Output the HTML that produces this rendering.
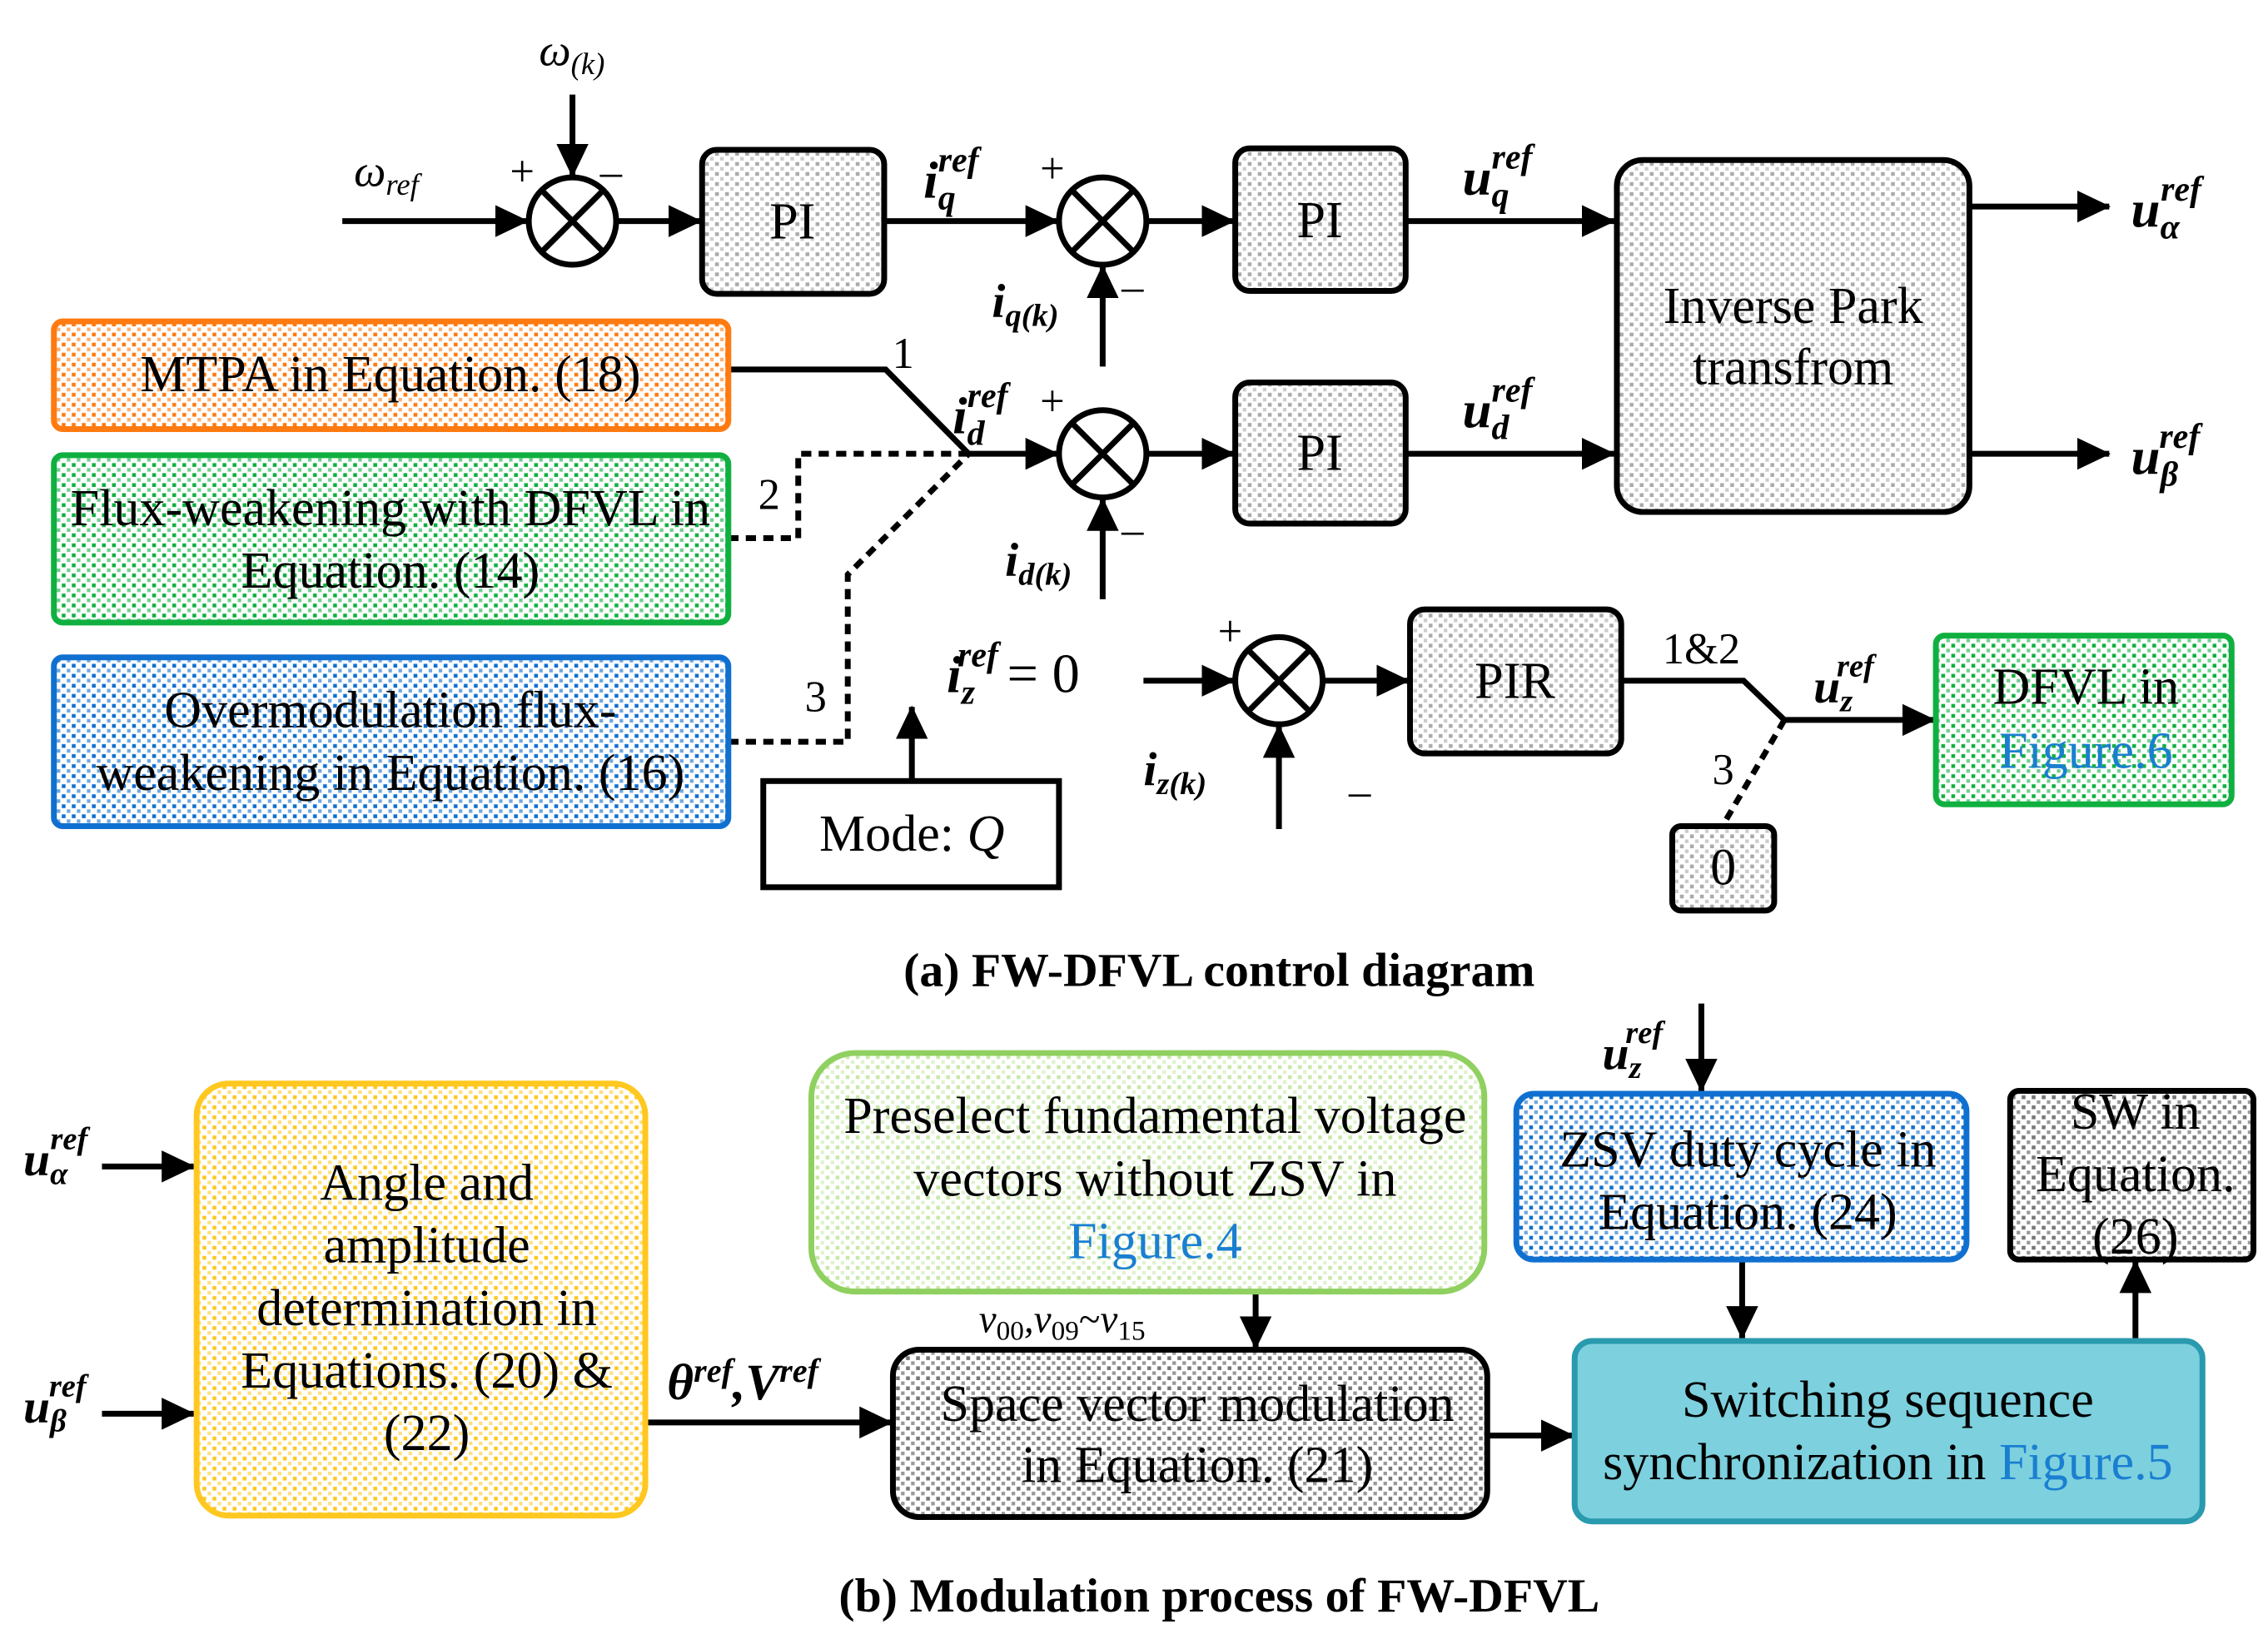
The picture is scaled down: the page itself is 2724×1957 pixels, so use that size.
<!DOCTYPE html>
<html><head><meta charset="utf-8"><style>html,body{margin:0;padding:0;background:#fff}svg{display:block}
text{font-family:"Liberation Serif",serif;fill:#000}
.t{font-size:35.5px}.cap{font-size:33px;font-weight:bold}
</style></head><body>
<svg width="2724" height="1957" viewBox="0 0 1557 1120" preserveAspectRatio="none" xmlns="http://www.w3.org/2000/svg">
<defs>
<marker id="a" markerUnits="userSpaceOnUse" markerWidth="24" markerHeight="22" refX="22" refY="11" orient="auto"><path d="M0,0 L23,11 L0,22 Z" fill="#000"/></marker>
<pattern id="pg" patternUnits="userSpaceOnUse" width="6.9" height="6.9"><rect width="6.9" height="6.9" fill="#fff"/><rect x="1" y="1" width="2.6" height="2.6" fill="#aaa"/><rect x="4.45" y="4.45" width="2.6" height="2.6" fill="#ccc"/></pattern>
<pattern id="po" patternUnits="userSpaceOnUse" width="6.9" height="6.9"><rect width="6.9" height="6.9" fill="#fff"/><rect x="1" y="1" width="2.6" height="2.6" fill="#ff7a10"/><rect x="4.45" y="4.45" width="2.6" height="2.6" fill="#ffb070"/></pattern>
<pattern id="pgr" patternUnits="userSpaceOnUse" width="6.9" height="6.9"><rect width="6.9" height="6.9" fill="#fff"/><rect x="1" y="1" width="2.6" height="2.6" fill="#10b040"/><rect x="4.45" y="4.45" width="2.6" height="2.6" fill="#70d090"/></pattern>
<pattern id="pb" patternUnits="userSpaceOnUse" width="6.9" height="6.9"><rect width="6.9" height="6.9" fill="#fff"/><rect x="1" y="1" width="2.6" height="2.6" fill="#1070d0"/><rect x="4.45" y="4.45" width="2.6" height="2.6" fill="#70a8e0"/></pattern>
<pattern id="py" patternUnits="userSpaceOnUse" width="6.9" height="6.9"><rect width="6.9" height="6.9" fill="#fff"/><rect x="1" y="1" width="2.6" height="2.6" fill="#ffc820"/><rect x="4.45" y="4.45" width="2.6" height="2.6" fill="#ffe080"/></pattern>
<pattern id="plg" patternUnits="userSpaceOnUse" width="6.9" height="6.9"><rect width="6.9" height="6.9" fill="#fff"/><rect x="1" y="1" width="2.6" height="2.6" fill="#c8e8a8"/><rect x="4.45" y="4.45" width="2.6" height="2.6" fill="#e0f2d0"/></pattern>
<pattern id="pdg" patternUnits="userSpaceOnUse" width="6.9" height="6.9"><rect width="6.9" height="6.9" fill="#fff"/><rect x="1" y="1" width="2.6" height="2.6" fill="#777"/><rect x="4.45" y="4.45" width="2.6" height="2.6" fill="#999"/></pattern>
</defs>
<g stroke="#000" stroke-width="4" fill="none">
<line x1="235" y1="152" x2="362" y2="152" marker-end="url(#a)"/>
<line x1="393" y1="65" x2="393" y2="121" marker-end="url(#a)"/>
<line x1="424" y1="152" x2="481" y2="152" marker-end="url(#a)"/>
<line x1="607" y1="152" x2="726" y2="152" marker-end="url(#a)"/>
<line x1="757" y1="252" x2="757" y2="183" marker-end="url(#a)"/>
<line x1="788" y1="152" x2="847" y2="152" marker-end="url(#a)"/>
<line x1="965" y1="152" x2="1108" y2="152" marker-end="url(#a)"/>
<line x1="1352" y1="142" x2="1448" y2="142" marker-end="url(#a)"/>
<line x1="1352" y1="312" x2="1448" y2="312" marker-end="url(#a)"/>
<polyline points="500,254 608,254 665,312 726,312" marker-end="url(#a)"/>
<line x1="757" y1="412" x2="757" y2="343" marker-end="url(#a)"/>
<line x1="788" y1="312" x2="847" y2="312" marker-end="url(#a)"/>
<line x1="965" y1="312" x2="1108" y2="312" marker-end="url(#a)"/>
<polyline points="500,370 548,370 548,312 665,312" stroke-dasharray="7,5"/>
<polyline points="500,510 582,510 582,395 665,312" stroke-dasharray="7,5"/>
<line x1="626" y1="537" x2="626" y2="486" marker-end="url(#a)"/>
<line x1="785" y1="468" x2="847" y2="468" marker-end="url(#a)"/>
<line x1="878" y1="570" x2="878" y2="499" marker-end="url(#a)"/>
<line x1="909" y1="468" x2="967" y2="468" marker-end="url(#a)"/>
<polyline points="1113,468 1197,468 1225,495 1328,495" marker-end="url(#a)"/>
<line x1="1225" y1="495" x2="1183" y2="567" stroke-dasharray="7,5"/>
<line x1="70" y1="802" x2="133" y2="802" marker-end="url(#a)"/>
<line x1="70" y1="972" x2="133" y2="972" marker-end="url(#a)"/>
<line x1="443" y1="978" x2="612" y2="978" marker-end="url(#a)"/>
<line x1="862" y1="888" x2="862" y2="927" marker-end="url(#a)"/>
<line x1="1021" y1="987" x2="1080" y2="987" marker-end="url(#a)"/>
<line x1="1168" y1="690" x2="1168" y2="750" marker-end="url(#a)"/>
<line x1="1196" y1="866" x2="1196" y2="920" marker-end="url(#a)"/>
<line x1="1466" y1="920" x2="1466" y2="867" marker-end="url(#a)"/>
</g>
<g stroke="#000" stroke-width="4" fill="#fff">
<circle cx="393" cy="152" r="30"/><circle cx="757" cy="152" r="30"/><circle cx="757" cy="312" r="30"/><circle cx="878" cy="468" r="30"/>
</g>
<g stroke="#000" stroke-width="4">
<path d="M372,131 L414,173 M414,131 L372,173"/>
<path d="M736,131 L778,173 M778,131 L736,173"/>
<path d="M736,291 L778,333 M778,291 L736,333"/>
<path d="M857,447 L899,489 M899,447 L857,489"/>
</g>
<g stroke-width="4">
<rect x="482" y="103" width="125" height="99" rx="10" fill="url(#pg)" stroke="#000"/>
<rect x="848" y="102" width="117" height="98" rx="10" fill="url(#pg)" stroke="#000"/>
<rect x="848" y="263" width="117" height="97" rx="10" fill="url(#pg)" stroke="#000"/>
<rect x="1110" y="110" width="242" height="242" rx="18" fill="url(#pg)" stroke="#000"/>
<rect x="37" y="221" width="463" height="74" rx="6" fill="url(#po)" stroke="#ff7a10"/>
<rect x="37" y="313" width="463" height="115" rx="6" fill="url(#pgr)" stroke="#10b040"/>
<rect x="37" y="452" width="463" height="116" rx="6" fill="url(#pb)" stroke="#1070d0"/>
<rect x="524" y="537" width="203" height="73" fill="#fff" stroke="#000"/>
<rect x="968" y="419" width="145" height="99" rx="10" fill="url(#pg)" stroke="#000"/>
<rect x="1329" y="437" width="203" height="116" rx="6" fill="url(#pgr)" stroke="#10b040"/>
<rect x="1148" y="568" width="70" height="58" rx="6" fill="url(#pg)" stroke="#000"/>
<rect x="135" y="745" width="308" height="297" rx="22" fill="url(#py)" stroke="#ffc820"/>
<rect x="557" y="724" width="462" height="164" rx="30" fill="url(#plg)" stroke="#8fd060"/>
<rect x="613" y="928" width="408" height="115" rx="18" fill="url(#pdg)" stroke="#000"/>
<rect x="1081" y="922" width="431" height="124" rx="12" fill="#7dd0de" stroke="#2a9aae"/>
<rect x="1041" y="752" width="309" height="114" rx="12" fill="url(#pb)" stroke="#1070d0"/>
<rect x="1380" y="750" width="167" height="116" rx="6" fill="url(#pdg)" stroke="#000"/>
</g>
<g class="t" text-anchor="middle">
<text x="544" y="164">PI</text>
<text x="906" y="163">PI</text>
<text x="906" y="323">PI</text>
<text x="1231" y="222">Inverse Park</text>
<text x="1231" y="264">transfrom</text>
<text x="268" y="269">MTPA in Equation. (18)</text>
<text x="268" y="361">Flux-weakening with DFVL in</text>
<text x="268" y="404">Equation. (14)</text>
<text x="268" y="500">Overmodulation flux-</text>
<text x="268" y="543">weakening in Equation. (16)</text>
<text x="626" y="585">Mode: <tspan font-style="italic">Q</tspan></text>
<text x="1040" y="480">PIR</text>
<text x="1432" y="484">DFVL in</text>
<text x="1432" y="528" style="fill:#1a7fd0">Figure.6</text>
<text x="1183" y="608">0</text>
<text x="293" y="825">Angle and</text>
<text x="293" y="868">amplitude</text>
<text x="293" y="911">determination in</text>
<text x="293" y="954">Equations. (20) &amp;</text>
<text x="293" y="997">(22)</text>
<text x="793" y="779">Preselect fundamental voltage</text>
<text x="793" y="822">vectors without ZSV in</text>
<text x="793" y="865" style="fill:#1a7fd0">Figure.4</text>
<text x="822" y="977">Space vector modulation</text>
<text x="822" y="1019">in  Equation. (21)</text>
<text x="1296" y="974">Switching sequence</text>
<text x="1296" y="1017">synchronization in <tspan style="fill:#1a7fd0">Figure.5</tspan></text>
<text x="1200" y="802">ZSV duty cycle in</text>
<text x="1200" y="845">Equation. (24)</text>
<text x="1466" y="776">SW in</text>
<text x="1466" y="819">Equation.</text>
<text x="1466" y="862">(26)</text>
<text x="620" y="253" font-size="30">1</text>
<text x="528" y="350" font-size="30">2</text>
<text x="560" y="489" font-size="30">3</text>
<text x="1168" y="456" font-size="30">1&amp;2</text>
<text x="1183" y="539" font-size="30">3</text>
</g>
<g font-size="30">
<text x="350" y="128">+</text><text x="412" y="128">–</text>
<text x="714" y="126">+</text><text x="770" y="207">–</text>
<text x="714" y="286">+</text><text x="770" y="374">–</text>
<text x="836" y="444">+</text><text x="926" y="554">–</text>
</g>
<g font-style="italic">
<text x="370" y="45" font-size="31">ω<tspan font-size="21" dy="6">(k)</tspan></text>
<text x="243" y="128" font-size="31">ω<tspan font-size="21" dy="6">ref</tspan></text>
<g font-weight="bold">
<text x="634" y="136" font-size="36">i<tspan font-size="24" dy="8">q</tspan><tspan font-size="24" dx="-12" dy="-26">ref</tspan></text>
<text x="681" y="218" font-size="33">i<tspan font-size="22" dy="6">q(k)</tspan></text>
<text x="654" y="298" font-size="36">i<tspan font-size="24" dy="8">d</tspan><tspan font-size="24" dx="-12" dy="-26">ref</tspan></text>
<text x="690" y="396" font-size="33">i<tspan font-size="22" dy="6">d(k)</tspan></text>
<text x="1004" y="134" font-size="36">u<tspan font-size="24" dy="8">q</tspan><tspan font-size="24" dx="-12" dy="-26">ref</tspan></text>
<text x="1004" y="294" font-size="36">u<tspan font-size="24" dy="8">d</tspan><tspan font-size="24" dx="-12" dy="-26">ref</tspan></text>
<text x="1463" y="156" font-size="36">u<tspan font-size="24" dy="8">α</tspan><tspan font-size="24" dx="-13" dy="-26">ref</tspan></text>
<text x="1463" y="326" font-size="36">u<tspan font-size="24" dy="8">β</tspan><tspan font-size="24" dx="-13" dy="-26">ref</tspan></text>
<text x="650" y="476" font-size="36">i<tspan font-size="24" dy="8">z</tspan><tspan font-size="24" dx="-12" dy="-26">ref</tspan><tspan font-style="normal" font-weight="normal" font-size="38" dx="6" dy="18">= 0</tspan></text>
<text x="785" y="540" font-size="33">i<tspan font-size="22" dy="6">z(k)</tspan></text>
<text x="1245" y="483" font-size="33">u<tspan font-size="22" dy="6">z</tspan><tspan font-size="22" dx="-11" dy="-24">ref</tspan></text>
<text x="16" y="808" font-size="33">u<tspan font-size="22" dy="6">α</tspan><tspan font-size="22" dx="-12" dy="-24">ref</tspan></text>
<text x="16" y="978" font-size="33">u<tspan font-size="22" dy="6">β</tspan><tspan font-size="22" dx="-12" dy="-24">ref</tspan></text>
<text x="1100" y="735" font-size="33">u<tspan font-size="22" dy="6">z</tspan><tspan font-size="22" dx="-11" dy="-24">ref</tspan></text>
<text x="458" y="962" font-size="35">θ<tspan font-size="23" dy="-12">ref</tspan><tspan dy="12">,V</tspan><tspan font-size="23" dy="-12">ref</tspan></text>
</g>
<text x="672" y="916" font-size="27">v<tspan font-style="normal" font-size="19" dy="5">00</tspan><tspan dy="-5">,v</tspan><tspan font-style="normal" font-size="19" dy="5">09</tspan><tspan font-style="normal" dy="-5">~</tspan>v<tspan font-style="normal" font-size="19" dy="5">15</tspan></text>
</g>
<text class="cap" x="837" y="678" text-anchor="middle">(a) FW-DFVL control diagram</text>
<text class="cap" x="837" y="1108" text-anchor="middle">(b) Modulation process of FW-DFVL</text>
</svg>
</body></html>
